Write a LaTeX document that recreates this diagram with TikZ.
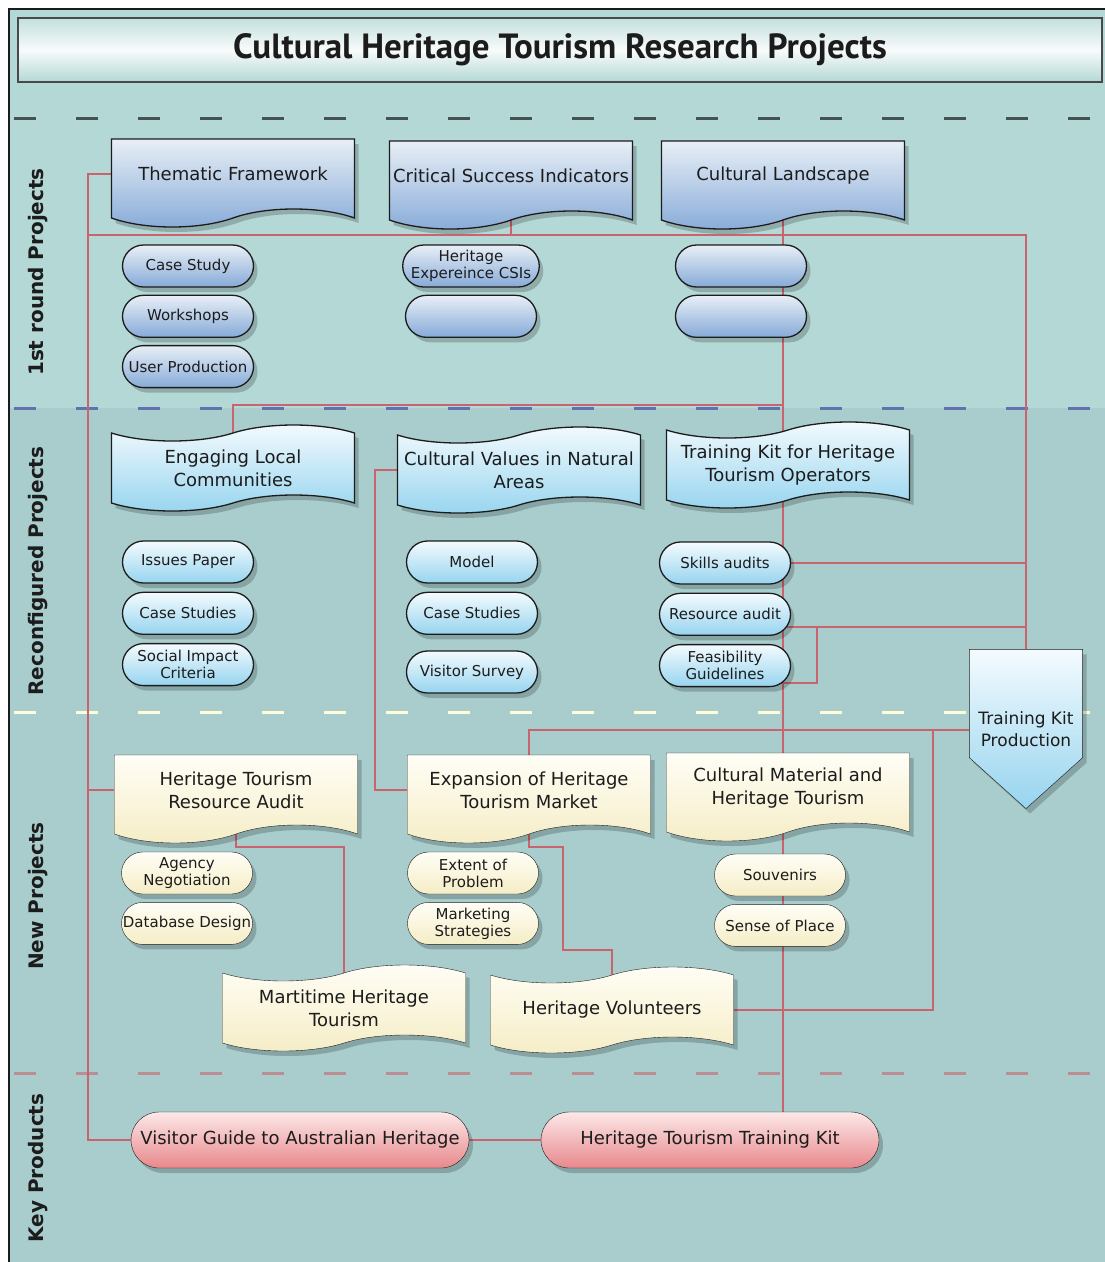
\documentclass[tikz,border=0pt]{standalone}
\usepackage{fontspec}
\setmainfont{DejaVu Sans}
\newfontfamily\titlefont{PT Sans}
\usetikzlibrary{positioning, shapes.symbols, shapes.misc, shadows, backgrounds, calc}
\pgfdeclarelayer{shapes}
\pgfsetlayers{background,shapes,main}
\definecolor{cteal}{HTML}{A9CDCD}
\definecolor{cteallight}{HTML}{B3D8D5}
\definecolor{clink}{HTML}{C9646E}
\definecolor{csteel}{HTML}{86AAD8}
\definecolor{csteeltop}{HTML}{E8EFF6}
\definecolor{ccyan}{HTML}{96D4EF}
\definecolor{ccyantop}{HTML}{F4FBFE}
\definecolor{ccream}{HTML}{F5EDC6}
\definecolor{ccreamtop}{HTML}{FFFEF6}
\definecolor{cpink}{HTML}{E8888C}
\definecolor{cpinktop}{HTML}{FCE8E8}
\definecolor{cink}{HTML}{1C1C1C}
\tikzset{
  every picture/.style={line width=1.3pt},
  softshadow/.style={drop shadow={shadow xshift=4pt, shadow yshift=-5pt, fill=black, opacity=.2}},
  round1/.style={top color=csteeltop, bottom color=csteel},
  round2/.style={top color=ccyantop, bottom color=ccyan},
  round3/.style={top color=ccreamtop, bottom color=ccream},
  doc/.style={tape, tape bend top=none, tape bend bottom=in and out, tape bend height=18pt, draw=cink, softshadow,
    minimum width=243pt, minimum height=88pt, align=center, text=cink, font=\fontsize{18}{23}\selectfont},
  flag/.style={tape, tape bend top=in and out, tape bend bottom=in and out, tape bend height=16pt, draw=cink, softshadow,
    minimum width=243pt, minimum height=86pt, align=center, text=cink, font=\fontsize{18}{23}\selectfont},
  pill/.style={rounded rectangle, draw=cink, softshadow, minimum width=133pt, minimum height=42pt,
    inner sep=1pt, align=center, text=cink, font=\fontsize{15}{17}\selectfont},
  product/.style={rounded rectangle, draw=cink, softshadow, top color=cpinktop, bottom color=cpink,
    minimum width=340pt, minimum height=56pt, inner sep=1pt, text=cink, font=\fontsize{18}{20}\selectfont},
  kitbox/.style={minimum width=112pt, minimum height=158pt, inner sep=0pt, align=center, text=cink,
    font=\fontsize{17}{22}\selectfont},
  link/.style={draw=clink, line width=2.6pt},
  lane/.style={dash pattern=on 22pt off 40pt, line width=3pt},
  lanelabel/.style={rotate=90, text=cink, font=\bfseries\fontsize{20}{24}\selectfont},
}
\begin{document}
\begin{tikzpicture}[x=1pt, y=-1pt]
  \useasboundingbox (0,0) rectangle (1104,1262);
  % title
  \node[draw=cink!80, line width=1.5pt, top color=cteallight!80, bottom color=cteallight, middle color=white!92!cteal,
    minimum width=1084pt, minimum height=64pt, inner sep=0pt,
    font=\titlefont\bfseries\fontsize{35}{40}\selectfont, text=cink] (title) at (560,50) {Cultural Heritage Tourism Research Projects};
  % lane labels
  \node[lanelabel] (lab1) at (38,272) {1st round Projects};
  \node[lanelabel] (lab2) at (38,571) {Reconfigured Projects};
  \node[lanelabel] (lab3) at (38,896) {New Projects};
  \node[lanelabel] (lab4) at (38,1168) {Key Products};

  % 1st round projects
  \node[doc, round1] (tf) at (233,174) {Thematic Framework};
  \node[doc, round1] (csi) at (511,176) {Critical Success Indicators};
  \node[doc, round1] (cl) at (783,176) {Cultural Landscape};
  \node[pill, round1] (cs) at (188,266) {Case Study};
  \node[pill, round1, below=7pt of cs] (ws) {Workshops};
  \node[pill, round1, below=7pt of ws] (up) {User Production};
  \node[pill, round1] (hecs) at (471,266) {Heritage\\Expereince CSIs};
  \node[pill, round1, below=7pt of hecs] (he2) {};
  \node[pill, round1] (cl1) at (741,266) {};
  \node[pill, round1, below=7pt of cl1] (cl2) {};

  % reconfigured projects
  \node[flag, round2] (elc) at (233,468) {Engaging Local\\Communities};
  \node[flag, round2] (cvn) at (519,470) {Cultural Values in Natural\\Areas};
  \node[flag, round2] (tko) at (788,465) {Training Kit for Heritage\\Tourism Operators};
  \node[pill, round2] (ip) at (188,562) {Issues Paper};
  \node[pill, round2, below=8pt of ip] (cs2) {Case Studies};
  \node[pill, round2, below=8pt of cs2] (sic) {Social Impact\\Criteria};
  \node[pill, round2] (mod) at (472,562) {Model};
  \node[pill, round2, below=8pt of mod] (cs3) {Case Studies};
  \node[pill, round2] (vs) at (472,672) {Visitor Survey};
  \node[pill, round2] (sa) at (725,563) {Skills audits};
  \node[pill, round2, below=8pt of sa] (ra) {Resource audit};
  \node[pill, round2, below=8pt of ra] (fg) {Feasibility\\Guidelines};
  \node[kitbox] (tkp) at (1026,729) {Training Kit\\Production};
  \begin{pgfonlayer}{shapes}
    \path[draw=cink, softshadow, round2] (tkp.north west) -- (tkp.north east) -- ([yshift=51pt]tkp.south east)
      -- (tkp.south) -- ([yshift=51pt]tkp.south west) -- cycle;
  \end{pgfonlayer}

  % new projects
  \node[doc, round3] (hra) at (236,790) {Heritage Tourism\\Resource Audit};
  \node[doc, round3] (ehm) at (529,790) {Expansion of Heritage\\Tourism Market};
  \node[doc, round3] (cm) at (788,788) {Cultural Material and\\Heritage Tourism};
  \node[pill, round3] (an) at (187,873) {Agency\\Negotiation};
  \node[pill, round3, below=8pt of an] (dd) {Database Design};
  \node[pill, round3] (ep) at (473,873) {Extent of\\Problem};
  \node[pill, round3, below=8pt of ep] (ms) {Marketing\\Strategies};
  \node[pill, round3] (sv) at (780,875) {Souvenirs};
  \node[pill, round3, below=8pt of sv] (sp) {Sense of Place};
  \node[flag, round3] (mht) at (344,1008) {Martitime Heritage\\Tourism};
  \node[flag, round3] (hv) at (612,1010) {Heritage Volunteers};

  % key products
  \node[product] (vg) at (300,1140) {Visitor Guide to Australian Heritage};
  \node[product] (httk) at (710,1140) {Heritage Tourism Training Kit};

  \coordinate (busL) at (88,0);
  \coordinate (busCV) at (375,0);
  \coordinate (busTK) at (933,0);
  \coordinate (busFG) at (817,0);
  \coordinate (topbus) at (88,235);
  \coordinate (midbus) at (0,405);
  \coordinate (rajoin) at (0,627);
  \coordinate (fgjoin) at (0,683);
  \coordinate (kitbus) at (0,730);
  \coordinate (lowbus) at (0,847);
  \coordinate (hvbend) at (563,950);

  \begin{scope}[on background layer]
    \fill[white] (0,0) rectangle (1104,1262);
    \fill[cteal] (9,9) rectangle (1110,1270);
    \fill[cteallight] (9,9) rectangle (1110,408);
    \draw[cink, line width=1.5pt] (9,1270) -- (9,9) -- (1110,9);
    \draw[lane, draw=black!60!cteal] (14,118) -- (1104,118);
    \draw[lane, draw=blue!30!cteal!80!black] (14,408) -- (1104,408);
    \draw[lane, draw=white!85!yellow] (14,712) -- (1104,712);
    \draw[lane, draw=clink!60!cteal] (14,1073) -- (1104,1073);
    % connectors
    \draw[link] (tf.west) -- (tf.west -| busL) |- (vg.west);
    \draw[link] (topbus) -| (tkp.north);
    \draw[link] (csi.south) -- (csi.south |- topbus);
    \draw[link] (cl.south) -- (cl.south |- httk.north);
    \draw[link] (elc.north) |- (cl.south |- midbus);
    \draw[link] (cvn.west) -- (cvn.west -| busCV) |- (ehm.west);
    \draw[link] (hra.west) -- (hra.west -| busL);
    \draw[link] (sa.east) -- (sa.east -| tkp.north);
    \draw[link] (ra |- rajoin) -- (tkp.north |- rajoin);
    \draw[link] (fg |- fgjoin) -- (busFG |- fgjoin) -- (busFG |- rajoin);
    \draw[link] (tkp.west |- kitbus) -| (ehm.north);
    \draw[link] (hv.east) -| (busTK |- kitbus);
    \draw[link] (hra.south) |- (mht.north |- lowbus) -- (mht.north);
    \draw[link] (ehm.south) |- (hvbend |- lowbus) -- (hvbend) -| (hv.north);
    \draw[link] (vg.east) -- (httk.west);
  \end{scope}
\end{tikzpicture}
\end{document}
